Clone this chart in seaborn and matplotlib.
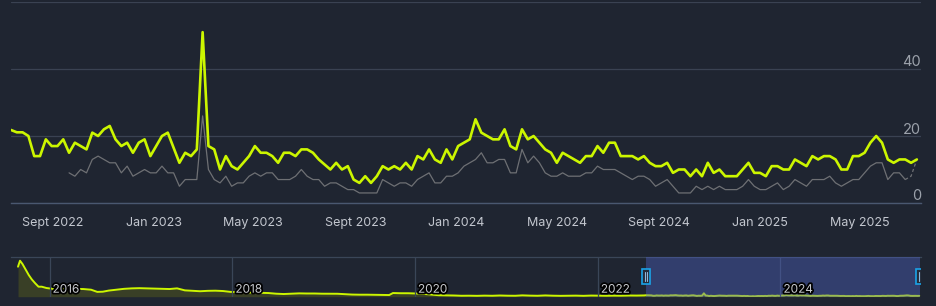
import numpy as np
import pandas as pd
import matplotlib
matplotlib.use("Agg")
import matplotlib.pyplot as plt
import matplotlib.patheffects as pe
from matplotlib.patches import Rectangle
from matplotlib.transforms import IdentityTransform, offset_copy
import seaborn as sns

# ---------------- data ----------------
week_start = "2022-07-13"
players = [21.8, 21.1, 21.1, 20, 14, 14, 19, 17, 17, 19,
           15, 18, 17, 16, 21, 20, 22, 23, 19, 17,
           18, 15, 18, 19, 14, 17, 20, 21, 16.5, 12,
           15, 14, 16, 51, 17, 16, 10, 14, 11, 10,
           12, 14, 17, 15, 15, 14, 12, 15, 15, 14,
           16, 16, 15, 13, 11.5, 10, 12, 10, 11, 7,
           6, 8, 6, 8, 11, 10, 11, 10, 12, 10,
           14, 13, 16, 13, 12, 16, 13, 17, 18, 19,
           25, 21, 20, 19, 19, 22, 17, 16, 22, 19,
           20, 18, 16, 15, 12, 15, 14, 13, 12, 14,
           14, 17, 15, 18, 18, 14, 14, 14, 13, 14,
           12, 11, 11, 12, 9, 10, 10, 8, 10, 8,
           12, 9, 10, 8, 8, 8, 10, 12, 9, 9,
           8, 11, 11, 10, 10, 13, 12, 11, 14, 13,
           14, 14, 13, 10, 10, 14, 14, 15, 18, 20,
           18, 13, 12, 13, 13, 12, 13]
players_avg = [np.nan] * 10 + [
           9, 8, 10, 9, 13, 14, 13, 12, 12, 9,
           11, 8, 9, 10, 9, 9, 11, 9, 9, 5,
           7, 7, 7, 26, 10, 7, 6, 8, 5, 6,
           6, 8, 9, 8, 9, 9, 7, 7, 7, 8,
           10, 8, 7, 7, 5, 6, 6, 5, 4, 4,
           3, 3, 3, 3, 7, 6, 5, 6, 6, 5,
           7, 8, 9, 6, 6, 8, 8, 9, 11, 12,
           13, 15, 12, 12, 13, 13, 9, 9, 16, 12,
           14, 12, 9, 8, 8, 9, 8, 8, 8, 9,
           9, 11, 10, 10, 10, 9, 8, 7, 8, 8,
           7, 5, 6, 7, 5, 3, 3, 3, 5, 4,
           5, 4, 5, 4, 4, 4, 5, 7, 5, 4,
           4, 5, 6, 4, 5, 7, 6, 5, 7, 7,
           7, 8, 6, 5, 6, 7, 7, 9, 11, 12,
           12, 7, 9, 9, 7, 8, 13]
n_partial = 2  # last segments still in progress (dashed)

xtick_dates = ["2022-09-01", "2023-01-01", "2023-05-01", "2023-09-01", "2024-01-01",
               "2024-05-01", "2024-09-01", "2025-01-01", "2025-05-01"]
xtick_labels = ["Sept 2022", "Jan 2023", "May 2023", "Sept 2023", "Jan 2024",
                "May 2024", "Sept 2024", "Jan 2025", "May 2025"]
ytick_values = [0, 20, 40, 60]
ytick_labels = ["0", "20", "40", ""]

nav_dates = ["2015-08-28", "2015-09-05", "2015-09-15", "2015-09-27", "2015-10-10",
             "2015-10-22", "2015-11-05", "2015-11-18", "2015-12-01", "2015-12-20",
             "2016-01-15", "2016-02-15", "2016-03-15", "2016-04-15", "2016-05-15",
             "2016-06-15", "2016-07-10", "2016-08-01", "2016-08-25", "2016-09-25",
             "2016-10-25", "2016-11-25", "2016-12-25", "2017-01-25", "2017-02-25",
             "2017-03-25", "2017-04-25", "2017-05-25", "2017-06-25", "2017-07-25",
             "2017-08-25", "2017-09-25", "2017-10-25", "2017-11-25", "2017-12-25",
             "2018-01-25", "2018-02-25", "2018-03-25", "2018-04-25", "2018-05-25",
             "2018-06-25", "2018-07-25", "2018-08-25", "2018-09-25", "2018-10-25",
             "2018-11-25", "2018-12-25", "2019-01-25", "2019-02-25", "2019-03-25",
             "2019-04-25", "2019-05-25", "2019-06-25", "2019-07-25", "2019-08-25",
             "2019-09-20", "2019-10-05", "2019-11-05", "2019-12-05", "2020-01-05",
             "2020-02-05", "2020-03-05", "2020-04-05", "2020-05-05", "2020-06-05",
             "2020-07-05", "2020-08-05", "2020-09-05", "2020-10-05", "2020-11-05",
             "2020-12-05", "2021-01-05", "2021-02-05", "2021-03-05", "2021-04-05",
             "2021-05-05", "2021-06-05", "2021-07-05", "2021-08-05", "2021-09-05",
             "2021-10-05", "2021-11-05", "2021-12-05", "2022-01-05", "2022-02-05",
             "2022-03-05", "2022-04-05", "2022-05-05", "2022-06-05", "2022-07-05"]
nav_values = [450, 540, 490, 410, 325, 260, 200, 150, 150, 130,
              118, 115, 118, 116, 115, 105, 72, 75, 92, 105,
              118, 125, 128, 125, 122, 118, 115, 125, 95, 88,
              82, 88, 90, 85, 72, 68, 65, 62, 58, 55,
              45, 40, 45, 50, 48, 48, 45, 45, 44, 38,
              32, 30, 30, 28, 26, 25, 55, 52, 52, 48,
              42, 32, 22, 20, 18, 14, 15, 13, 16, 14,
              18, 15, 14, 20, 16, 14, 19, 15, 13, 14,
              16, 13, 17, 15, 14, 16, 15, 18, 17, 19]
nav_year_ticks = ["2016-01-01", "2018-01-01", "2020-01-01", "2022-01-01", "2024-01-01"]
nav_year_labels = ["2016", "2018", "2020", "2022", "2024"]

# ---------------- style ----------------
BG = "#1f2531"
GRID = "#3a4252"
AXIS = "#4a5870"
GREEN = "#ccf600"
GRAY = "#6e7074"

sns.set_style("dark", {"axes.facecolor": BG, "figure.facecolor": BG})
plt.rcParams["font.family"] = ["Inter", "DejaVu Sans"]

W, H = 937, 306
fig = plt.figure(figsize=(W / 100, H / 100), dpi=100)
fig.patch.set_facecolor(BG)

# main axes: x 11..921 px, y 2..203 px
ax = fig.add_axes([11 / W, (H - 203) / H, 910 / W, 201 / H])
ax.set_facecolor(BG)

dates = pd.date_range(week_start, periods=len(players), freq="7D")
df = pd.DataFrame({"date": dates, "players": players, "avg": players_avg})

n = len(df)
sns.lineplot(data=df.iloc[: n - n_partial], x="date", y="avg", ax=ax,
             color=GRAY, lw=0.9, zorder=3)
sns.lineplot(data=df.iloc[n - n_partial - 1:], x="date", y="avg", ax=ax,
             color=GRAY, lw=0.9, linestyle=(0, (2.5, 2)), zorder=3)
sns.lineplot(data=df, x="date", y="players", ax=ax, color=GREEN, lw=1.9, zorder=4)

x_left = pd.Timestamp("2022-07-13")
x_right = pd.Timestamp("2025-07-14")
ax.set_xlim(x_left, x_right)
ax.set_ylim(0, 60)
ax.set_xlabel("")
ax.set_ylabel("")

ax.set_yticks(ytick_values)
ax.tick_params(axis="y", left=False, right=False, labelleft=False, labelright=False)
ax.yaxis.grid(True, color=GRID, lw=0.9)
ax.xaxis.grid(False)
for side in ["left", "right", "top"]:
    ax.spines[side].set_visible(False)
ax.spines["bottom"].set_color(AXIS)
ax.spines["bottom"].set_linewidth(1.0)

ax.set_xticks(pd.to_datetime(xtick_dates))
ax.set_xticklabels(xtick_labels)
ax.tick_params(axis="x", direction="out", length=7.2, width=0.9, color=AXIS,
               labelcolor="#c3c7cf", labelsize=9, pad=3)

ytrans = offset_copy(ax.get_yaxis_transform(), fig=fig, x=0, y=2.5, units="dots")
for v, lab in zip(ytick_values, ytick_labels):
    if lab:
        ax.text(1.0, v, lab, transform=ytrans, ha="right", va="baseline",
                color="#9ba1aa", fontsize=10.5, zorder=5)

# ---------------- navigator ----------------
nav = fig.add_axes([11 / W, (H - 296.7) / H, 910 / W, 40 / H])
nav.set_facecolor(BG)
nav_df = pd.concat([
    pd.DataFrame({"date": pd.to_datetime(nav_dates), "players": nav_values}),
    df[["date", "players"]],
], ignore_index=True)

nav.fill_between(nav_df["date"], nav_df["players"], 0, color="#393f26", lw=0, zorder=1)
sns.lineplot(data=nav_df, x="date", y="players", ax=nav, color=GREEN, lw=1.4, zorder=2)

nav.set_xlim(pd.Timestamp("2015-07-31"), pd.Timestamp("2025-07-16"))
nav.set_ylim(0, 600)
nav.set_xlabel("")
nav.set_ylabel("")
nav.set_yticks([])
nav.set_xticks(pd.to_datetime(nav_year_ticks))
nav.tick_params(axis="x", bottom=False, labelbottom=False)
nav.xaxis.grid(True, color="#3a4658", lw=0.9, zorder=4)
nav.set_axisbelow(False)
for side in ["left", "right", "bottom"]:
    nav.spines[side].set_visible(False)
nav.spines["top"].set_color("#3a4658")
nav.spines["top"].set_linewidth(0.9)

# selection mask
nav.axvspan(x_left, x_right, color=(80 / 255, 100 / 255, 200 / 255), alpha=0.4,
            lw=0, zorder=3)

ltrans = offset_copy(nav.get_xaxis_transform(), fig=fig, x=3, y=4, units="dots")
for d, lab in zip(nav_year_ticks, nav_year_labels):
    nav.text(pd.Timestamp(d), 0, lab, transform=ltrans, ha="left", va="baseline",
             color="#c9cbd0", fontsize=8.5, zorder=6,
             path_effects=[pe.withStroke(linewidth=2.5, foreground="#000000")])

# handles
fig.canvas.draw()
for d in [x_left, x_right]:
    cx, _ = nav.transData.transform((matplotlib.dates.date2num(d), 0))
    cy = H - 276.8
    rect = Rectangle((cx - 4.2, cy - 7.5), 8.4, 15, transform=IdentityTransform(),
                     facecolor="#252c3a", edgecolor="#1aa3e8", lw=1.2, zorder=7)
    nav.add_patch(rect)
    for dx in (-1.3, 1.3):
        nav.add_line(plt.Line2D([cx + dx, cx + dx], [cy - 4.5, cy + 4.5],
                                transform=IdentityTransform(), color="#8fb8dd",
                                lw=0.8, zorder=8))

fig.savefig("out.png", dpi=100, facecolor=BG)
